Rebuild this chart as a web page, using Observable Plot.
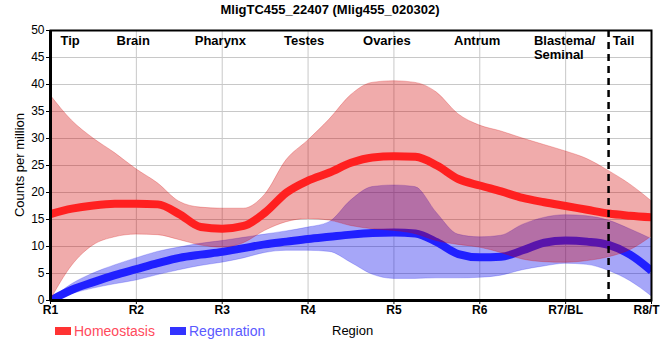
<!DOCTYPE html>
<html><head><meta charset="utf-8">
<script src="https://cdn.jsdelivr.net/npm/d3@7"></script>
<script src="https://cdn.jsdelivr.net/npm/@observablehq/plot@0.6"></script>
<style>
body{margin:0;background:#fff;font-family:"Liberation Sans",Arial,sans-serif;}
#chart svg{display:block;}
</style>
</head><body><div id="chart"></div>
<script>
// Region positions (R1 = 1 ... R8 = 8), sampled along the smoothed profiles
const xPos = [1,1.25,1.5,1.75,2,2.25,2.5,2.75,3,3.25,3.5,3.75,4,4.25,4.5,4.75,5,5.25,5.5,5.75,6,6.25,6.5,6.75,7,7.25,7.5,7.75,8];

const homMean  = [16.0,17.0,17.6,17.9,17.9,17.8,16.0,13.6,13.3,13.8,16.3,20.0,22.2,23.7,25.5,26.5,26.7,26.6,25.0,22.5,21.3,20.2,19.0,18.2,17.5,16.8,16.1,15.7,15.4];
const homUpper = [38.0,33.3,30.0,27.3,24.3,21.7,18.3,17.2,17.0,17.0,19.6,26.0,29.6,33.5,38.0,40.3,40.6,40.3,38.5,34.5,32.4,31.3,30.0,28.8,27.6,26.2,24.0,21.5,18.4];
const homLower = [0.0,6.4,10.2,11.7,12.2,12.1,11.2,10.2,9.8,10.6,12.9,14.5,15.1,14.8,13.8,13.2,12.9,12.3,11.0,10.3,9.8,8.8,7.6,7.1,7.0,7.3,8.0,9.3,11.8];

const regMean  = [0.0,2.0,3.4,4.7,5.8,6.9,7.9,8.5,9.0,9.7,10.4,10.9,11.4,11.8,12.2,12.5,12.6,12.4,10.8,8.6,8.0,8.1,9.3,10.7,11.1,10.9,10.3,8.5,5.5];
const regUpper = [0.0,3.0,5.0,6.5,7.8,9.0,9.8,10.5,11.0,11.6,12.2,12.8,13.5,14.5,18.5,21.0,21.3,21.0,16.2,12.2,11.7,12.0,14.0,15.3,15.8,15.6,14.8,13.2,11.4];
const regLower = [0.0,1.2,2.2,3.0,3.7,4.7,5.6,6.4,7.0,7.8,8.8,9.2,9.2,9.0,7.0,4.8,4.0,4.0,4.1,4.1,4.2,4.6,5.6,6.3,6.8,6.6,5.5,3.6,0.8];

const tickValues = [1,2,3,4,5,6,7,8];
const tickLabels = ["R1","R2","R3","R4","R5","R6","R7/BL","R8/T"];
const yTicks = [0,5,10,15,20,25,30,35,40,45,50];
const regionNames = ["Tip","Brain","Pharynx","Testes","Ovaries","Antrum","Blastema/\nSeminal","Tail"];
const regionStart = [1.116,1.77,2.68,3.72,4.64,5.70,6.63,7.55];
const boundary = [7.5];
const seriesNames = ["Homeostasis","Regenration"];
const titleText = "MligTC455_22407 (Mlig455_020302)";
const yLabel = "Counts per million";
const xLabel = "Region";

const hom = xPos.map((x,i)=>({x, mean:homMean[i], lo:homLower[i], hi:homUpper[i]}));
const reg = xPos.map((x,i)=>({x, mean:regMean[i], lo:regLower[i], hi:regUpper[i]}));
const regionRows = regionNames.map((t,i)=>({t, x:regionStart[i]}));
const tickRows = tickValues.map((v,i)=>({x:v, t:tickLabels[i]}));

const FONT = "'Liberation Sans', Arial, sans-serif";

const plot = Plot.plot({
  width: 660, height: 360,
  marginTop: 30, marginLeft: 50, marginRight: 9, marginBottom: 60,
  style: {fontFamily: FONT, fontSize: "12px", color: "#000", background: "#fff", overflow: "visible"},
  x: {domain: [1,8], axis: null},
  y: {domain: [0,50], axis: null},
  marks: [
    Plot.gridX(tickValues, {stroke: "#c8c8c8", strokeOpacity: 1, strokeWidth: 1}),
    Plot.gridY(yTicks, {stroke: "#c8c8c8", strokeOpacity: 1, strokeWidth: 1}),
    Plot.areaY(reg, {x: "x", y1: "lo", y2: "hi", fill: "rgb(0,0,234)", fillOpacity: 0.35, stroke: "rgb(0,0,234)", strokeOpacity: 0.2, strokeWidth: 1, curve: "monotone-x", clip: true}),
    Plot.line(reg, {x: "x", y: "mean", stroke: "#2020ff", strokeWidth: 8, strokeLinecap: "butt", curve: "monotone-x", clip: true}),
    Plot.areaY(hom, {x: "x", y1: "lo", y2: "hi", fill: "rgb(210,0,0)", fillOpacity: 0.33, stroke: "rgb(210,0,0)", strokeOpacity: 0.25, strokeWidth: 1, curve: "monotone-x", clip: true}),
    Plot.line(hom, {x: "x", y: "mean", stroke: "#ff2020", strokeWidth: 8, strokeLinecap: "butt", curve: "monotone-x", clip: true}),
    Plot.ruleX(boundary, {stroke: "#000", strokeWidth: 2.5, strokeDasharray: "7,5"}),
    Plot.frame({stroke: "#000", strokeWidth: 2}),
    Plot.ruleX([1], {stroke: "#000", strokeWidth: 3}),
    Plot.ruleY([0], {stroke: "#000", strokeWidth: 3}),
    Plot.axisX({ticks: tickValues, tickSize: 4, tickFormat: () => "", label: null, stroke: "#000"}),
    Plot.text(tickRows.slice(0, 7), {x: "x", text: "t", frameAnchor: "bottom", lineAnchor: "top", dy: 5, fontWeight: "bold", fontSize: 12, fill: "#000"}),
    Plot.text(tickRows.slice(7), {x: "x", text: "t", frameAnchor: "bottom", lineAnchor: "top", dy: 5, dx: 8, textAnchor: "end", fontWeight: "bold", fontSize: 12, fill: "#000"}),
    Plot.axisY({ticks: yTicks, tickSize: 4, tickPadding: 2, fontSize: 12, label: null, stroke: "#000"}),
    Plot.text(regionRows, {x: "x", text: "t", frameAnchor: "top", textAnchor: "start", lineAnchor: "top", dy: 4, fontWeight: "bold", fontSize: 13, lineHeight: 1.1, fill: "#000"})
  ]
});

const svg = d3.select(plot);
svg.append("text").attr("x", 330).attr("y", 14).attr("text-anchor", "middle")
  .attr("font-family", FONT).attr("font-size", 13).attr("font-weight", "bold").attr("fill", "#000").text(titleText);
svg.append("text").attr("transform", "translate(24,165) rotate(-90)").attr("text-anchor", "middle")
  .attr("font-family", FONT).attr("font-size", 13).attr("fill", "#000").text(yLabel);
svg.append("text").attr("x", 332).attr("y", 335).attr("text-anchor", "start")
  .attr("font-family", FONT).attr("font-size", 13).attr("fill", "#000").text(xLabel);
const legendColors = [["#ff3333","#ff4a5c"],["#3333ff","#5a5aff"]];
const legendX = [55, 170];
seriesNames.forEach((name,i)=>{
  svg.append("rect").attr("x", legendX[i]).attr("y", 327).attr("width", 16).attr("height", 8).attr("fill", legendColors[i][0]);
  svg.append("text").attr("x", legendX[i]+19).attr("y", 336).attr("text-anchor", "start")
    .attr("font-family", FONT).attr("font-size", 14).attr("fill", legendColors[i][1]).text(name);
});

document.getElementById("chart").appendChild(plot);
</script>
</body></html>
